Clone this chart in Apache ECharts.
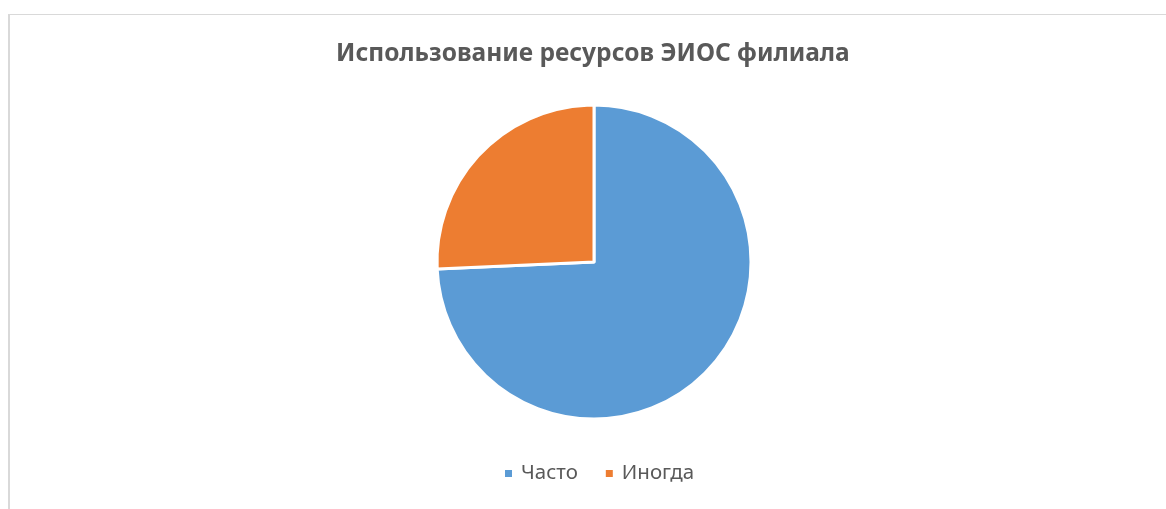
<!DOCTYPE html>
<html>
<head>
<meta charset="utf-8">
<script src="https://cdn.jsdelivr.net/npm/echarts@6/dist/echarts.min.js"></script>
<style>
  html, body { margin: 0; padding: 0; background: #fff; }
  #frame { position: absolute; left: 8px; top: 14px; width: 1170px; height: 510px;
           border-top: 1px solid #d9d9d9; border-left: 2px solid #d9d9d9; box-sizing: border-box; }
  #chart { position: absolute; left: 0; top: 0; width: 1166px; height: 509px; }
</style>
</head>
<body>
<div id="frame"></div>
<div id="chart"></div>
<script>
const titleText = 'Использование ресурсов ЭИОС филиала';
const categories = ['Часто', 'Иногда'];
const values = [26, 9];
const colors = ['#5B9BD5', '#ED7D31'];

const chart = echarts.init(document.getElementById('chart'));
chart.setOption({
  animation: false,
  color: colors,
  title: {
    text: titleText,
    left: 336,
    top: 42,
    padding: 0,
    textStyle: { fontFamily: 'Noto Sans', fontWeight: 'bold', fontSize: 24.5, color: '#595959' }
  },
  legend: {
    data: categories,
    left: 503,
    top: 463,
    padding: 0,
    icon: 'rect',
    itemWidth: 9,
    itemHeight: 9,
    itemGap: 26,
    textStyle: { fontFamily: 'Noto Sans', fontSize: 20.5, color: '#595959', padding: [0, 0, 0, 3] }
  },
  series: [{
    type: 'pie',
    center: [594, 262],
    radius: 157,
    startAngle: 90,
    clockwise: true,
    label: { show: false },
    labelLine: { show: false },
    emphasis: { disabled: true },
    itemStyle: { borderColor: '#ffffff', borderWidth: 3 },
    data: categories.map((c, i) => ({ name: c, value: values[i] }))
  }]
});
</script>
</body>
</html>
